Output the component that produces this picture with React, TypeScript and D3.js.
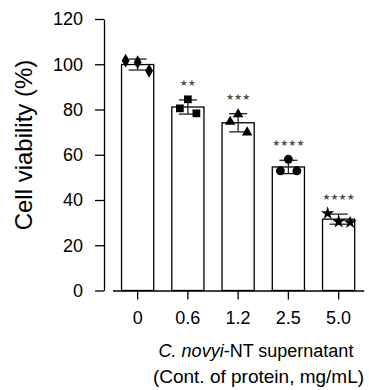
import { useEffect, useRef } from 'react'
import * as d3 from 'd3'

// concentrations (mg/mL) on the x axis
const categories = ['0', '0.6', '1.2', '2.5', '5.0']

// replicate viability values (%) per concentration, in drawing order
const replicates = [
  [101.6, 100.9, 97.1],
  [80.5, 84.5, 78.3],
  [74.6, 77.9, 69.9],
  [52.9, 58.0, 52.9],
  [34.1, 30.4, 30.1],
]

// x offsets of the replicate dots inside each bar
const jitter = [
  [-12, 0, 11.5],
  [-8, 0, 8.5],
  [-8, 0, 9],
  [-8, 0, 8.5],
  [-11, 0, 11.5],
]

const significance = ['', '**', '***', '****', '****']
const yTicks = [0, 20, 40, 60, 80, 100, 120]

const symbols = [d3.symbolDiamond, d3.symbolSquare, d3.symbolTriangle, d3.symbolCircle, d3.symbolStar]
const symbolSizes = [55, 60, 48, 62, 55]

export default function App() {
  const svgRef = useRef<SVGSVGElement>(null)

  useEffect(() => {
    if (!svgRef.current) return
    const svg = d3.select(svgRef.current)
    svg.selectAll('*').remove()

    const font = '"Liberation Sans", Arial, sans-serif'

    const x = d3
      .scaleBand<string>()
      .domain(categories)
      .range([112.5, 363.75])
      .paddingInner(0.36)
      .paddingOuter(0.18)

    const y = d3.scaleLinear().domain([0, 120]).range([290.5, 19])

    // y axis
    const yAxis = svg
      .append('g')
      .attr('transform', 'translate(104,0)')
      .call(d3.axisLeft(y).tickValues(yTicks).tickSize(9).tickPadding(12).tickSizeOuter(0))
    yAxis.select('.domain').attr('stroke', '#000').attr('stroke-width', 1.3)
    yAxis.selectAll('.tick line').attr('stroke', '#000').attr('stroke-width', 1.3)
    yAxis
      .selectAll('.tick text')
      .attr('font-family', font)
      .attr('font-size', 18)
      .attr('fill', '#000')

    // bars
    const stats = replicates.map((vals) => ({
      mean: d3.mean(vals) as number,
      sd: d3.deviation(vals) as number,
    }))

    svg
      .append('g')
      .selectAll('rect')
      .data(categories)
      .join('rect')
      .attr('x', (d) => x(d) as number)
      .attr('y', (_, i) => y(stats[i].mean))
      .attr('width', x.bandwidth())
      .attr('height', (_, i) => y(0) - y(stats[i].mean))
      .attr('fill', '#fff')
      .attr('stroke', '#000')
      .attr('stroke-width', 1.3)

    // x axis
    const xAxis = svg
      .append('g')
      .attr('transform', `translate(0,${y(0)})`)
      .call(d3.axisBottom(x).tickSize(9).tickPadding(12).tickSizeOuter(0))
    xAxis.select('.domain').attr('stroke', '#000').attr('stroke-width', 1.3)
    xAxis.selectAll('.tick line').attr('stroke', '#000').attr('stroke-width', 1.3)
    xAxis
      .selectAll('.tick text')
      .attr('font-family', font)
      .attr('font-size', 18)
      .attr('fill', '#000')

    // error bars (mean ± SD)
    const cx = (i: number) => (x(categories[i]) as number) + x.bandwidth() / 2
    const err = svg.append('g').attr('stroke', '#222').attr('stroke-width', 1.3)
    stats.forEach((s, i) => {
      const c = cx(i)
      err.append('line').attr('x1', c).attr('x2', c).attr('y1', y(s.mean + s.sd)).attr('y2', y(s.mean - s.sd))
      err.append('line').attr('x1', c - 9).attr('x2', c + 9).attr('y1', y(s.mean + s.sd)).attr('y2', y(s.mean + s.sd))
      err.append('line').attr('x1', c - 9).attr('x2', c + 9).attr('y1', y(s.mean - s.sd)).attr('y2', y(s.mean - s.sd))
    })

    // replicate points
    replicates.forEach((vals, i) => {
      const sym = d3.symbol().type(symbols[i]).size(symbolSizes[i])
      svg
        .append('g')
        .selectAll('path')
        .data(vals)
        .join('path')
        .attr('d', sym)
        .attr('transform', (v, j) => `translate(${cx(i) + jitter[i][j]},${y(v)})`)
        .attr('fill', '#000')
    })

    // significance stars
    svg
      .append('g')
      .selectAll('text')
      .data(significance)
      .join('text')
      .attr('x', (_, i) => cx(i))
      .attr('y', (_, i) => y(stats[i].mean + stats[i].sd) - 14)
      .attr('text-anchor', 'middle')
      .attr('font-family', '"DejaVu Sans", sans-serif')
      .attr('font-size', 9)
      .attr('fill', '#555')
      .text((d) => d.replace(/\*/g, '★'))

    // y label
    svg
      .append('text')
      .attr('transform', 'translate(32,145) rotate(-90)')
      .attr('text-anchor', 'middle')
      .attr('font-family', font)
      .attr('font-size', 24)
      .attr('fill', '#000')
      .text('Cell viability (%)')

    // x label
    const xl = svg
      .append('text')
      .attr('x', 256)
      .attr('y', 356.5)
      .attr('text-anchor', 'middle')
      .attr('font-family', font)
      .attr('font-size', 18)
      .attr('fill', '#000')
    xl.append('tspan').attr('font-style', 'italic').text('C. novyi')
    xl.append('tspan').text('-NT supernatant')

    svg
      .append('text')
      .attr('x', 258.5)
      .attr('y', 382.5)
      .attr('text-anchor', 'middle')
      .attr('font-family', font)
      .attr('font-size', 19)
      .attr('fill', '#000')
      .text('(Cont. of protein, mg/mL)')
  }, [])

  return (
    <svg
      ref={svgRef}
      width={369}
      height={390}
      style={{ position: 'absolute', left: 0, top: 0, background: '#fff' }}
    ></svg>
  )
}
